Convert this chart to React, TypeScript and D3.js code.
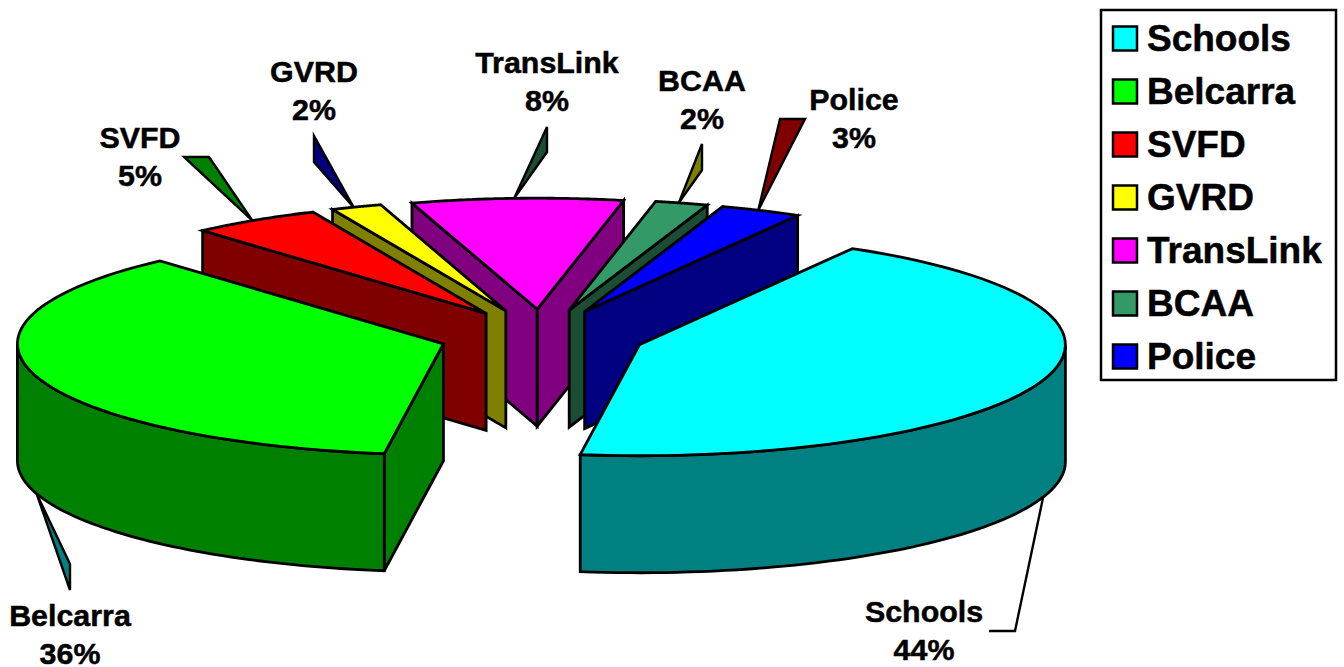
import React from "react";
import * as d3 from "d3";

const categories = ["Schools", "Belcarra", "SVFD", "GVRD", "TransLink", "BCAA", "Police"];
// slice sizes; the labels show them rounded
const shares = [43.88, 36.19, 4.92, 1.92, 8, 2, 3.08];
const topColors = ["#00ffff", "#00ff00", "#ff0000", "#ffff00", "#ff00ff", "#339966", "#0000ff"];
const sideColors = ["#008080", "#008000", "#800000", "#808000", "#800080", "#1a4d33", "#000080"];
const leaderColors = ["none", "#008080", "#008000", "#000080", "#1a4d33", "#808000", "#800000"];

const width = 1344;
const height = 667;
const rx = 426;
const ry = 111;
const depth = 117;
const explode = 103;
const center = { x: 542, y: 336 };
const font = "'Liberation Sans', Arial, sans-serif";

// back to front, so nearer slices hide the faces behind them
const drawOrder = [4, 3, 5, 2, 6, 1, 0];

// label centre and first baseline, then the outer end of the callout
const labelPos: Record<string, { x: number; y: number; tail: [number, number][] }> = {
  Schools: { x: 924, y: 622, tail: [[1015, 631], [989, 631]] },
  Belcarra: { x: 70, y: 626, tail: [[70, 564], [70, 590]] },
  SVFD: { x: 140, y: 148, tail: [[209, 157], [184, 157]] },
  GVRD: { x: 314, y: 82, tail: [[314, 162], [314, 136]] },
  TransLink: { x: 547, y: 73, tail: [[547, 152], [547, 127]] },
  BCAA: { x: 702, y: 91, tail: [[702, 170], [702, 144]] },
  Police: { x: 854, y: 110, tail: [[780, 119], [805, 119]] },
};

const rad = (deg: number) => (deg * Math.PI) / 180;

const pie = d3
  .pie<number>()
  .sort(null)
  .startAngle(rad(30))
  .endAngle(rad(390));

const xScale = d3.scaleLinear().domain([-1, 1]).range([-rx, rx]);
const yScale = d3.scaleLinear().domain([-1, 1]).range([-ry, ry]);
const legendY = d3.scalePoint<string>().domain(categories).range([38.5, 356.5]);

const line = d3.line<[number, number]>();

const rimPoints = (a0: number, a1: number, ox: number, oy: number, dy = 0) =>
  d3
    .range(0, 61)
    .map((i): [number, number] => {
      const a = a0 + ((a1 - a0) * i) / 60;
      return [ox + xScale(Math.sin(a)), oy + yScale(-Math.cos(a)) + dy];
    });

const App: React.FC = () => {
  const arcs = pie(shares);

  const slices = arcs.map((arc, i) => {
    const mid = (arc.startAngle + arc.endAngle) / 2;
    const ox = center.x + explode * Math.sin(mid);
    const oy = center.y - explode * (ry / rx) * Math.cos(mid);
    const rim = rimPoints(arc.startAngle, arc.endAngle, ox, oy);
    const first = rim[0];
    const last = rim[rim.length - 1];
    const faces: [number, number][][] = [];

    const wall = (p: [number, number]): [number, number][] => [
      [ox, oy],
      p,
      [p[0], p[1] + depth],
      [ox, oy + depth],
    ];

    // a cut face shows only when it turns toward the viewer
    if (Math.sin(arc.endAngle) > 0) faces.push(wall(last));
    if (Math.sin(arc.startAngle) < 0) faces.push(wall(first));

    const a0 = Math.max(arc.startAngle, Math.PI / 2);
    const a1 = Math.min(arc.endAngle, (3 * Math.PI) / 2);
    if (a1 > a0) {
      const outer = rimPoints(a0, a1, ox, oy);
      const lower = rimPoints(a0, a1, ox, oy, depth).reverse();
      faces.push([...outer, ...lower]);
    }

    const anchorAngle = mid - rad(0.4);
    const anchor: [number, number] = [
      ox + xScale(Math.sin(anchorAngle)),
      oy + yScale(-Math.cos(anchorAngle)) + (Math.cos(mid) < 0 ? depth : 0),
    ];
    return { i, top: [[ox, oy] as [number, number], ...rim], faces, anchor };
  });

  return (
    <svg
      width={width}
      height={height}
      style={{ position: "absolute", left: 0, top: 0, background: "#fff" }}
      fontFamily={font}
      fontWeight="bold"
    >
      {drawOrder.map((idx) => {
        const s = slices[idx];
        return (
          <g key={categories[idx]} stroke="#000" strokeWidth={2.8} strokeLinejoin="miter">
            {s.faces.map((f, j) => (
              <path key={j} d={line(f) + "Z"} fill={sideColors[idx]} />
            ))}
            <path d={line(s.top) + "Z"} fill={topColors[idx]} />
          </g>
        );
      })}

      {slices.map((s) => {
        const name = categories[s.i];
        const pos = labelPos[name];
        const pts: [number, number][] = [s.anchor, ...pos.tail];
        const isOpen = leaderColors[s.i] === "none";
        return (
          <g key={name}>
            <path
              d={line(pts) + (isOpen ? "" : "Z")}
              fill={leaderColors[s.i]}
              stroke="#000"
              strokeWidth={2.4}
            />
            <g fontSize={30.4} fill="#000" stroke="#000" strokeWidth={0.5} textAnchor="middle">
              <text x={pos.x} y={pos.y}>
                {name}
              </text>
              <text x={pos.x} y={pos.y + 38}>
                {Math.round(shares[s.i])}%
              </text>
            </g>
          </g>
        );
      })}

      <rect x={1101} y={10} width={235} height={370} fill="#fff" stroke="#000" strokeWidth={2.5} />
      {categories.map((name, i) => (
        <g key={name}>
          <rect
            x={1113}
            y={(legendY(name) as number) - 12}
            width={24}
            height={24}
            fill={topColors[i]}
            stroke="#000"
            strokeWidth={2.5}
          />
          <text
            x={1147}
            y={(legendY(name) as number) + 12}
            fontSize={37}
            fill="#000"
            stroke="#000"
            strokeWidth={0.5}
          >
            {name}
          </text>
        </g>
      ))}
    </svg>
  );
};

export default App;
